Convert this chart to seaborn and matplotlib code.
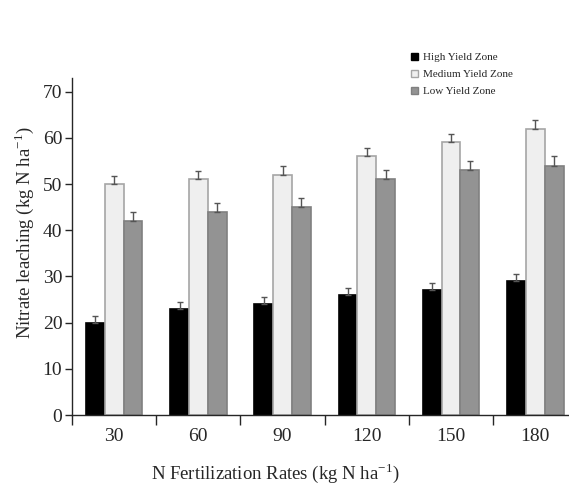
import pandas as pd
import numpy as np
import matplotlib
matplotlib.use("Agg")
import matplotlib.pyplot as plt
import seaborn as sns

# ---------------------------------------------------------
# data
# ---------------------------------------------------------
rates = ["30", "60", "90", "120", "150", "180"]
zones = ["High Yield Zone", "Medium Yield Zone", "Low Yield Zone"]
high_yield = [20, 23, 24, 26, 27, 29]
medium_yield = [50, 51, 52, 56, 59, 62]
low_yield = [42, 44, 45, 51, 53, 54]
high_err = [1.5, 1.5, 1.5, 1.5, 1.5, 1.5]
medium_err = [1.8, 1.8, 1.8, 1.8, 1.8, 1.8]
low_err = [2.0, 2.0, 2.0, 2.0, 2.0, 2.0]

df = pd.DataFrame({
    "rate": rates * 3,
    "zone": [zones[0]] * 6 + [zones[1]] * 6 + [zones[2]] * 6,
    "value": high_yield + medium_yield + low_yield,
    "err": high_err + medium_err + low_err,
})

colores = ["#000000", "#efefef", "#939393"]
bordes = ["#000000", "#a5a5a5", "#808080"]

sns.set_style("ticks")
plt.rcParams["font.family"] = ["Liberation Serif", "DejaVu Serif"]
plt.rcParams["mathtext.fontset"] = "stix"

fig = plt.figure(figsize=(5.69, 4.86), dpi=100)
ax = fig.add_axes([0.1265, 0.146, 0.8735, 0.694])

sns.barplot(data=df, x="rate", y="value", hue="zone", order=rates,
            hue_order=zones, palette=colores, width=0.67, gap=0,
            errorbar=None, legend=False, ax=ax)

# bordes y barras de error
for k, zona in enumerate(zones):
    sub = df[df["zone"] == zona].set_index("rate").loc[rates]
    cont = ax.containers[k]
    xs = []
    for p in cont.patches:
        p.set_edgecolor(bordes[k])
        p.set_linewidth(1.2)
        xs.append(p.get_x() + p.get_width() / 2)
    err = sub["err"].values
    ax.errorbar(xs, sub["value"].values, yerr=[np.zeros(len(err)), err],
                fmt="none", ecolor="#555555", elinewidth=1, capsize=2.5,
                capthick=1)

ax.set_xlim(-0.5, 5.4)
ax.set_ylim(0, 73)
ax.set_yticks(range(0, 71, 10))
ax.set_xticks(np.arange(-0.5, 5, 1), minor=True)
ax.tick_params(axis="x", which="major", length=0, labelsize=14, pad=9)
ax.tick_params(axis="x", which="minor", length=7, width=1, direction="out")
ax.tick_params(axis="y", length=5, width=1, labelsize=14, pad=2)
sns.despine(ax=ax)
ax.spines["left"].set_linewidth(1)
ax.spines["bottom"].set_linewidth(1)

ax.set_xlabel(r"N Fertilization Rates (kg N ha$^{\mathregular{-1}}$)",
              fontsize=13.5, labelpad=12, x=0.41)
ax.set_ylabel(r"Nitrate leaching (kg N ha$^{\mathregular{-1}}$)",
              fontsize=13.5, labelpad=5, y=0.54)

handles = [plt.Rectangle((0, 0), 1, 1, facecolor=colores[i],
                         edgecolor=bordes[i]) for i in range(3)]
fig.legend(handles, zones, loc="upper left",
           bbox_to_anchor=(405 / 569, 1 - 47 / 486), frameon=False,
           fontsize=8, handlelength=0.7, handleheight=0.7,
           handletextpad=0.4, labelspacing=0.65, borderpad=0)

plt.savefig("out.png", dpi=100)
